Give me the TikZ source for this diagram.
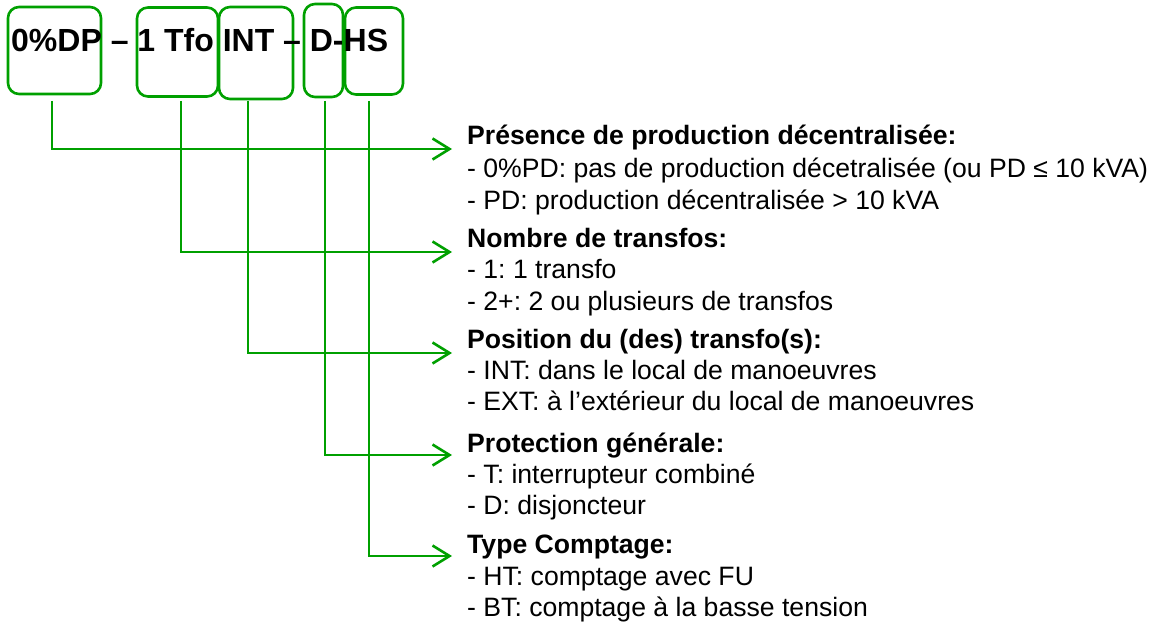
\documentclass[tikz,border=0pt]{standalone}
\usepackage{fontspec}
\setmainfont{Liberation Sans}
\frenchspacing
\usetikzlibrary{arrows.meta}
\definecolor{lgreen}{RGB}{0,160,0}
\begin{document}
\begin{tikzpicture}[x=1pt,y=-1pt,
  codebox/.style={draw=lgreen,line width=2.6pt,rounded corners=11pt,inner sep=0pt},
  conn/.style={draw=lgreen,line width=2.6pt,-{Straight Barb[length=17pt,width=21pt,line width=2.6pt]}},
  head/.style={font=\fontsize{26.6}{30}\selectfont\bfseries,anchor=base west,inner sep=0pt},
  item/.style={font=\fontsize{26.6}{30}\selectfont,anchor=base west,inner sep=0pt}]
\useasboundingbox (0,0) rectangle (1155,623);
% boxes
\node[codebox,minimum width=93pt,minimum height=87pt] (b1) at (54.5,50.5) {};
\node[codebox,minimum width=81pt,minimum height=89pt] (b2) at (177.5,52) {};
\node[codebox,minimum width=74pt,minimum height=92pt] (b3) at (256,53) {};
\node[codebox,minimum width=39pt,minimum height=93pt] (b4) at (323.5,50.5) {};
\node[codebox,minimum width=58pt,minimum height=87pt] (b5) at (374,51) {};
% title
\node[anchor=base west,inner sep=0pt,font=\fontsize{32}{36}\selectfont\bfseries] (title) at (11,52) {0\%DP – 1 Tfo INT – D-HS};
% start coordinates
\coordinate (s1) at (52,101);
\coordinate (s2) at (181,101);
\coordinate (s3) at (248,101);
\coordinate (s4) at (325,101);
\coordinate (s5) at (369,101);
% text blocks
\node[head] (h1) at (467,144) {Présence de production décentralisée:};
\node[item] (h1a) at (467,177) {- 0\%PD: pas de production décetralisée (ou PD ≤ 10 kVA)};
\node[item] (h1b) at (467,209) {- PD: production décentralisée > 10 kVA};
\node[head] (h2) at (467,247) {Nombre de transfos:};
\node[item] (h2a) at (467,278) {- 1: 1 transfo};
\node[item] (h2b) at (467,310) {- 2+: 2 ou plusieurs de transfos};
\node[head] (h3) at (467,348) {Position du (des) transfo(s):};
\node[item] (h3a) at (467,379) {- INT: dans le local de manoeuvres};
\node[item] (h3b) at (467,410) {- EXT: à l’extérieur du local de manoeuvres};
\node[head] (h4) at (467,452) {Protection générale:};
\node[item] (h4a) at (467,483) {- T: interrupteur combiné};
\node[item] (h4b) at (467,514) {- D: disjoncteur};
\node[head] (h5) at (467,553) {Type Comptage:};
\node[item] (h5a) at (467,585) {- HT: comptage avec FU};
\node[item] (h5b) at (467,616) {- BT: comptage à la basse tension};
% arrow ends
\coordinate (e1) at (452,149);
\coordinate (e2) at (452,252);
\coordinate (e3) at (452,353);
\coordinate (e4) at (452,455);
\coordinate (e5) at (452,556);
\draw[conn] (s1) |- (e1);
\draw[conn] (s2) |- (e2);
\draw[conn] (s3) |- (e3);
\draw[conn] (s4) |- (e4);
\draw[conn] (s5) |- (e5);
\end{tikzpicture}
\end{document}
